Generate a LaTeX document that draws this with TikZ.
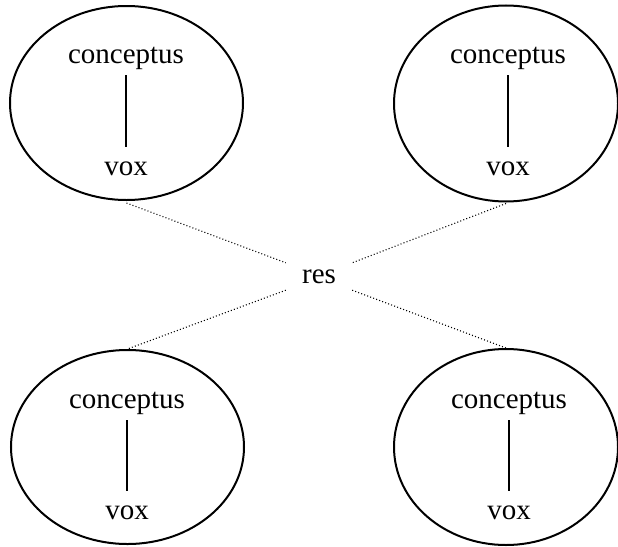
\documentclass[tikz,border=0pt]{standalone}
\usepackage{fontspec}
\setmainfont{Liberation Serif}
\usetikzlibrary{shapes.geometric}
\begin{document}
\begin{tikzpicture}[x=1pt,y=-1pt,
  bubble/.style={ellipse,draw,line width=2pt,inner sep=0pt},
  word/.style={anchor=base,inner sep=0pt,font=\fontsize{29}{30}\selectfont},
  stem/.style={line width=1.8pt},
  link/.style={line width=1.1pt,dash pattern=on 1pt off 2.2pt}]
\useasboundingbox (0,0) rectangle (618,546);
% ellipses
\node[bubble,minimum width=233pt,minimum height=194pt] (tl) at (126.5,103) {};
\node[bubble,minimum width=224pt,minimum height=196pt] (tr) at (506,103.5) {};
\node[bubble,minimum width=233pt,minimum height=194pt] (bl) at (127.5,447) {};
\node[bubble,minimum width=224pt,minimum height=196pt] (br) at (506,447) {};
% texts
\node[word] (c1) at (126,63) {conceptus};
\node[word] (v1) at (126,175) {vox};
\node[word] (c2) at (508,63) {conceptus};
\node[word] (v2) at (508,175) {vox};
\node[word] (c3) at (127,408) {conceptus};
\node[word] (v3) at (127,519) {vox};
\node[word] (c4) at (509,408) {conceptus};
\node[word] (v4) at (509,519) {vox};
\node[font=\fontsize{29}{30}\selectfont,minimum width=66pt,minimum height=27pt,inner sep=0pt] (res) at (319,276.5) {res};
% stems
\foreach \c/\v in {c1/v1,c2/v2,c3/v3,c4/v4}
  \draw[stem] ([yshift=-12pt]\c.base) -- ([yshift=28pt]\v.base);
% dotted links
\draw[link] ([yshift=-2pt]tl.south) -- (res.north west);
\draw[link] ([yshift=-1pt]tr.south) -- (res.north east);
\draw[link] (res.south west) -- (bl.north);
\draw[link] (res.south east) -- (br.north);
\end{tikzpicture}
\end{document}
